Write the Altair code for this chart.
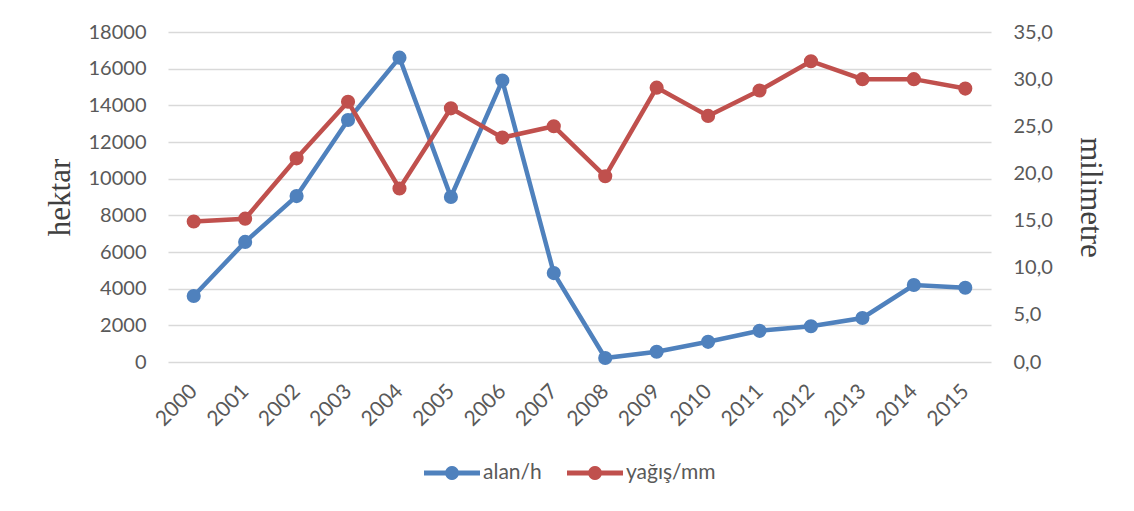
import altair as alt
import pandas as pd

years = [str(y) for y in range(2000, 2016)]
alan = [3600, 6550, 9050, 13200, 16600, 9000, 15350, 4850, 220, 560, 1100, 1700, 1950, 2400, 4200, 4050]
yagis = [14.9, 15.2, 21.6, 27.6, 18.4, 26.9, 23.8, 25.0, 19.7, 29.1, 26.1, 28.8, 31.9, 30.0, 30.0, 29.0]
series_names = ["alan/h", "yağış/mm"]
colors = ["#4F81BD", "#C0504D"]
left_ticks = list(range(0, 18001, 2000))
right_ticks = [0, 5, 10, 15, 20, 25, 30, 35]

df_a = pd.DataFrame({"year": years, "value": alan, "series": series_names[0]})
df_b = pd.DataFrame({"year": years, "value": yagis, "series": series_names[1]})

legend_path = ("M-1,-0.09H-0.233A0.25,0.25 0 0 1 0.233,-0.09H1V0.09H0.233"
               "A0.25,0.25 0 0 1 -0.233,0.09H-1Z")

color = alt.Color(
    "series:N",
    scale=alt.Scale(domain=series_names, range=colors),
    legend=alt.Legend(
        title=None, orient="none", direction="horizontal",
        legendX=256, legendY=413,
        symbolType=legend_path, symbolSize=3136, symbolStrokeWidth=0,
        symbolOpacity=1,
        labelFont="Lato", labelFontSize=21, labelColor="#595959",
        labelOffset=3, columnPadding=25,
    ),
)

x = alt.X(
    "year:O", title=None, sort=years,
    axis=alt.Axis(labelAngle=-45, labelAlign="right", labelBaseline="middle",
                  labelFontSize=21, labelPadding=26,
                  domain=False, ticks=False, grid=False),
)

base_a = alt.Chart(df_a).encode(
    x=x,
    y=alt.Y("value:Q", title="hektar",
            scale=alt.Scale(domain=[0, 18000], nice=False),
            axis=alt.Axis(values=left_ticks, format="d", orient="left",
                          grid=True, gridColor="#d9d9d9", gridWidth=1.5,
                          domain=False, ticks=False, labelPadding=22,
                          titlePadding=12)),
    color=color,
)
layer_a = base_a.mark_line(strokeWidth=4.5) + base_a.mark_point(filled=True, size=200, opacity=1)

base_b = alt.Chart(df_b).encode(
    x=x,
    y=alt.Y("value:Q", title="milimetre",
            scale=alt.Scale(domain=[0, 35], nice=False),
            axis=alt.Axis(values=right_ticks, orient="right",
                          labelExpr="replace(format(datum.value, '.1f'), '.', ',')",
                          grid=False, domain=False, ticks=False, labelPadding=22,
                          titlePadding=21)),
    color=color,
)
layer_b = base_b.mark_line(strokeWidth=4.5) + base_b.mark_point(filled=True, size=200, opacity=1)

chart = (
    alt.layer(layer_a, layer_b)
    .resolve_scale(y="independent")
    .properties(
        width=823, height=330,
        padding={"left": 160, "top": 24, "right": 127, "bottom": 130},
        autosize=alt.AutoSizeParams(type="none"),
    )
    .configure_view(stroke=None)
    .configure_axis(
        labelFont="Lato", labelFontSize=20, labelColor="#595959",
        titleFont="Liberation Serif", titleFontSize=31, titleFontWeight="normal",
        titleColor="#404040",
    )
)

chart.save("out.html", embed_options={"renderer": "svg", "actions": False})
